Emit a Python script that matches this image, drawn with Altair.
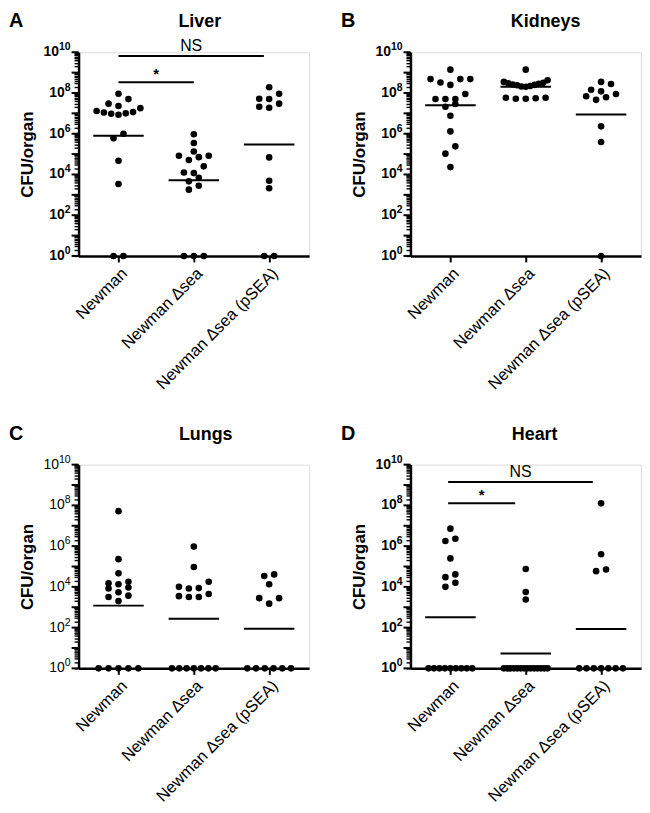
import numpy as np
import pandas as pd
import altair as alt
import json

groups = ["Newman", "Newman Δsea", "Newman Δsea (pSEA)"]

# CFU/organ per mouse (undetected plotted at 10^0 = 1)
liver_newman = [9.1e7, 5.0e7, 3.0e7, 2.3e7, 1.8e7, 1.15e7, 9.5e6, 8.5e6, 1.0e7, 1.1e7, 1.3e7,
                1.0e6, 6.0e5, 4.7e4, 3.4e3, 1, 1]
liver_dsea = [9.5e5, 3.5e5, 1.35e5, 8.3e4, 7.1e4, 8.3e4, 5.1e4, 2.5e4, 1.26e4, 1.17e4, 6.9e3,
              4.6e3, 2.8e3, 1.8e3, 1, 1, 1]
liver_psea = [1.9e8, 9.1e7, 5.1e7, 5.2e7, 3.0e7, 2.1e7, 1.9e7, 6.9e4, 4.9e3, 2.1e3, 1, 1]
liver_lines = [8.0e5, 5.2e3, 3.0e5]

kidney_newman = [1.4e9, 4.8e8, 3.3e8, 2.5e8, 4.8e8, 4.8e8, 8.9e7, 5.1e7, 2.9e7, 5.1e7, 5.1e7,
                 2.1e7, 7.6e6, 1.3e6, 2.4e5, 1.05e5, 2.3e4]
kidney_dsea = [1.4e9, 4.2e8, 3.5e8, 3.2e8, 3.0e8, 2.8e8, 2.6e8, 2.5e8, 2.4e8, 2.2e8, 2.1e8,
               2.0e8, 5.8e7, 5.2e7, 5.2e7, 5.5e7, 5.8e7]
kidney_psea = [2.75e8, 3.5e8, 1.45e8, 8.9e7, 6.2e7, 4.6e7, 6.9e7, 1.2e8, 2.3e6, 3.9e5, 1]
kidney_lines = [2.5e7, 2.0e8, 8.7e6]

lung_newman = [5.2e7, 2.3e5, 4.6e4, 1.8e4, 1.35e4, 8.3e3, 9.3e3, 1.5e4, 5.4e3, 3.2e3, 2.0e3, 3.7e3,
               1, 1, 1, 1, 1]
lung_dsea = [9.5e5, 9.5e4, 8.7e3, 4.5e3, 1.0e4, 1.8e4, 3.2e3, 3.2e3, 3.5e3, 8.3e3,
             1, 1, 1, 1, 1, 1, 1]
lung_psea = [4.1e4, 3.4e4, 1.35e4, 2.8e3, 2.8e3, 1.5e3, 1, 1, 1, 1, 1, 1]
lung_lines = [1.2e3, 2.7e2, 87]

heart_newman = [7.2e6, 1.8e6, 2.3e6, 2.5e5, 4.1e4, 1.6e4, 3.0e4, 1.0e4, 1, 1, 1, 1, 1, 1, 1, 1, 1]
heart_dsea = [7.6e4, 5.6e3, 2.4e3, 1, 1, 1, 1, 1, 1, 1, 1, 1, 1, 1, 1, 1, 1]
heart_psea = [1.26e8, 4.0e5, 7.1e4, 5.9e4, 1, 1, 1, 1, 1, 1, 1]
heart_lines = [3.2e2, 5.4, 85]

# significance brackets: label, start group, end group, level
liver_brackets = [("NS", 0.0, 1.93, 6.6e9), ("*", 0.0, 1.0, 3.4e8)]
heart_brackets = [("NS", -0.03, 1.89, 1.4e9), ("*", -0.03, 0.86, 1.26e8)]

# y-axis tick labels: 10^exponent
label_exponents = [0, 2, 4, 6, 8, 10]
major_exponents = list(range(0, 11))

W, H = 232, 205
XDOM = [-0.53, 2.53]
PX_PER_GROUP = W / (XDOM[1] - XDOM[0])
PX_PER_DEC = H / 10.0
DOT = 7.5
FONT = "Liberation Sans"


def swarm(vals, g):
    """Scatter-dot layout: points within one dot height share a row and are spread sideways."""
    logs = np.log10(np.asarray(vals, dtype=float))
    order = list(np.argsort(logs, kind="stable"))
    rows, cur, start = [], [], None
    for i in order:
        y = logs[i] * PX_PER_DEC
        if cur and y - start > DOT:
            rows.append(cur)
            cur = []
        if not cur:
            start = y
        cur.append(i)
    if cur:
        rows.append(cur)
    out = []
    for row in rows:
        n = len(row)
        sp = min(10.0, 44.0 / (n - 1)) if n > 1 else 0.0
        slots = sorted([(k - (n - 1) / 2) * sp for k in range(n)], key=lambda s: (abs(s), s))
        for idx, s in zip(row, slots):
            out.append({"x": g + s / PX_PER_GROUP, "v": float(vals[idx])})
    return out


label_js = json.dumps(groups, ensure_ascii=False)
tick_vals = [float(k * 10 ** d) for d in range(10) for k in range(1, 10)] + [1e10]
major_vals = [float(10 ** d) for d in major_exponents]


def make_axes():
    xaxis = alt.Axis(
        title=None, values=[0, 1, 2], labelExpr=f"{label_js}[round(datum.value)]",
        labelAngle=-45, labelAlign="right", labelBaseline="top", labelFontSize=16.5,
        labelFont=FONT, labelColor="black", labelPadding=3, tickSize=6, tickWidth=2,
        tickColor="black", domainColor="black", domainWidth=2.5, grid=False,
        labelFlush=False, labelOverlap=False,
    )
    yaxis = alt.Axis(
        title="CFU/organ", titleFont=FONT, titleFontSize=17, titleFontWeight="bold",
        titleColor="black", titlePadding=37, values=tick_vals, labels=False,
        tickSize=4.5, tickWidth=1.4, tickColor="black", domainColor="black",
        domainWidth=2.5, grid=False,
    )
    return xaxis, yaxis


def panel(letter, organ, series, lines, brackets, title_dx, bold_labels=True):
    xaxis, yaxis = make_axes()
    xs = alt.Scale(domain=XDOM, nice=False, zero=False)
    ys = alt.Scale(type="log", domain=[1, 1e10], nice=False)
    Y = lambda f: alt.Y(f, scale=ys, axis=yaxis)
    X = lambda f: alt.X(f, scale=xs, axis=xaxis)

    pts = []
    for g, vals in enumerate(series):
        pts += swarm(vals, g)
    points = alt.Chart(pd.DataFrame(pts)).mark_circle(size=44, color="black", opacity=1).encode(
        x=X("x:Q"), y=Y("v:Q"),
    )

    med_df = pd.DataFrame({"g": [0, 1, 2], "v": lines})
    meds = alt.Chart(med_df).mark_rule(color="black", strokeWidth=2).transform_calculate(
        x="datum.g - 0.335", x2="datum.g + 0.335"
    ).encode(x=X("x:Q"), x2="x2:Q", y=Y("v:Q"))

    major = alt.Chart(pd.DataFrame({"v": major_vals})).mark_rule(
        color="black", strokeWidth=2
    ).encode(x=alt.value(-7), x2=alt.value(0), y=Y("v:Q"))

    lab_df = pd.DataFrame({"v": [float(10 ** e) for e in label_exponents],
                           "e": [str(e) for e in label_exponents]})
    weight = "bold" if bold_labels else "normal"
    base_lab = alt.Chart(lab_df).mark_text(
        font=FONT, fontSize=14, fontWeight=weight, align="right", baseline="middle", color="black"
    ).transform_calculate(
        bx="-8 - 5.8 * length(datum.e)", t="'10'"
    ).encode(x=alt.X("bx:Q", scale=None, axis=None), y=Y("v:Q"), text="t:N")
    exp_lab = alt.Chart(lab_df).mark_text(
        font=FONT, fontSize=10.5, fontWeight=weight, align="right", baseline="middle",
        dy=-5, color="black"
    ).encode(x=alt.value(-8), y=Y("v:Q"), text="e:N")

    layers = [points, meds, major, base_lab, exp_lab]

    if brackets:
        br_df = pd.DataFrame(brackets, columns=["lab", "x", "x2", "v"])
        rules = alt.Chart(br_df).mark_rule(color="black", strokeWidth=2).encode(
            x=X("x:Q"), x2="x2:Q", y=Y("v:Q"),
        )
        ns = alt.Chart(br_df[br_df["lab"] == "NS"]).mark_text(
            font=FONT, fontSize=16, baseline="bottom", dy=-2, color="black"
        ).transform_calculate(xm="(datum.x + datum.x2) / 2").encode(
            x=X("xm:Q"), y=Y("v:Q"), text="lab:N",
        )
        star = alt.Chart(br_df[br_df["lab"] == "*"]).mark_text(
            font=FONT, fontSize=15, fontWeight="bold", baseline="bottom", dy=0, color="black"
        ).transform_calculate(xm="(datum.x + datum.x2) / 2").encode(
            x=X("xm:Q"), y=Y("v:Q"), text="lab:N",
        )
        layers += [rules, ns, star]

    title = alt.Chart(pd.DataFrame({"t": [organ]})).mark_text(
        font=FONT, fontSize=18, fontWeight="bold", align="center", baseline="middle", color="black"
    ).encode(x=alt.value(W / 2 + title_dx), y=alt.value(-30), text="t:N")
    let = alt.Chart(pd.DataFrame({"t": [letter]})).mark_text(
        font=FONT, fontSize=20, fontWeight="bold", align="left", baseline="middle", color="black"
    ).encode(x=alt.value(-70), y=alt.value(-31), text="t:N")
    layers += [title, let]

    return alt.layer(*layers).properties(width=W, height=H)


pA = panel("A", "Liver", [liver_newman, liver_dsea, liver_psea], liver_lines, liver_brackets, 6)
pB = panel("B", "Kidneys", [kidney_newman, kidney_dsea, kidney_psea], kidney_lines, None, 20)
pC = panel("C", "Lungs", [lung_newman, lung_dsea, lung_psea], lung_lines, None, 12, bold_labels=False)
pD = panel("D", "Heart", [heart_newman, heart_dsea, heart_psea], heart_lines, heart_brackets, 9)

chart = alt.vconcat(
    alt.hconcat(pA, pB, spacing=30),
    alt.hconcat(pC, pD, spacing=30),
    spacing=30,
).properties(
    padding={"left": 0, "top": 0, "right": 0, "bottom": 0}
).configure_view(stroke=None).configure(font=FONT)

chart.save("out.html", embed_options={"renderer": "svg", "actions": False})
